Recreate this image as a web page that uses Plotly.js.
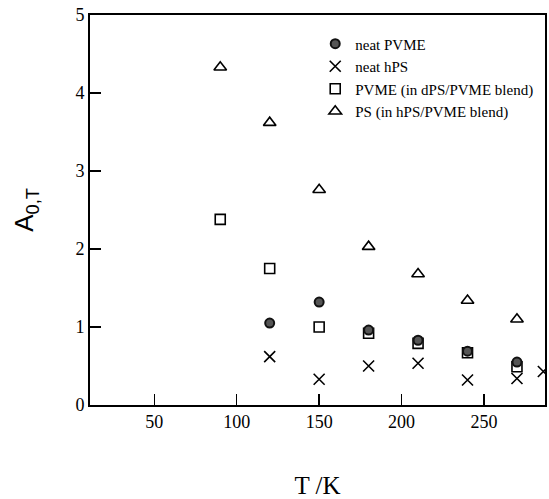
<!DOCTYPE html>
<html>
<head>
<meta charset="utf-8">
<script src="https://cdn.plot.ly/plotly-3.0.1.min.js"></script>
<style>html,body{margin:0;padding:0;background:#fff;}#chart{width:549px;height:499px;}</style>
</head>
<body>
<div id="chart"></div>
<script>
// Data
const neatPVME_T = [120, 150, 180, 210, 240, 270];
const neatPVME_A = [1.05, 1.32, 0.96, 0.83, 0.69, 0.55];

const neatHPS_T = [120, 150, 180, 210, 240, 270, 286];
const neatHPS_A = [0.62, 0.33, 0.50, 0.535, 0.32, 0.34, 0.43];

const pvmeBlend_T = [90, 120, 150, 180, 210, 240, 270];
const pvmeBlend_A = [2.38, 1.75, 1.00, 0.92, 0.79, 0.67, 0.49];

const psBlend_T = [90, 120, 150, 180, 210, 240, 270];
const psBlend_A = [4.33, 3.62, 2.76, 2.03, 1.68, 1.34, 1.10];

const xTicks = [50, 100, 150, 200, 250];
const yTicks = [0, 1, 2, 3, 4, 5];

const names = ['neat PVME', 'neat hPS', 'PVME (in dPS/PVME blend)', 'PS (in hPS/PVME blend)'];

const traces = [
  {
    x: pvmeBlend_T, y: pvmeBlend_A, name: names[2], legendrank: 3,
    mode: 'markers', type: 'scatter',
    marker: {symbol: 'square-open', size: 10, color: '#000', line: {width: 1.6, color: '#000'}}
  },
  {
    x: neatPVME_T, y: neatPVME_A, name: names[0], legendrank: 1,
    mode: 'markers', type: 'scatter',
    marker: {symbol: 'circle', size: 9, color: '#555', line: {width: 2, color: '#111'}}
  },
  {
    x: neatHPS_T, y: neatHPS_A, name: names[1], legendrank: 2,
    mode: 'markers', type: 'scatter',
    marker: {symbol: 'x-thin-open', size: 11, color: '#000', line: {width: 1.6, color: '#000'}}
  },
  {
    x: psBlend_T, y: psBlend_A, name: names[3], legendrank: 4,
    mode: 'markers', type: 'scatter',
    marker: {symbol: 'triangle-up-open', size: 11, color: '#000', line: {width: 1.6, color: '#000'}}
  }
];

const serif = 'Liberation Serif, Times New Roman, serif';

const layout = {
  width: 549, height: 499,
  margin: {l: 90, r: 4, t: 15, b: 94},
  paper_bgcolor: '#fff', plot_bgcolor: '#fff',
  showlegend: true,
  legend: {
    x: 0.495, y: 0.968, xanchor: 'left', yanchor: 'top',
    bgcolor: 'rgba(0,0,0,0)', borderwidth: 0,
    font: {family: serif, size: 15, color: '#000'}
  },
  xaxis: {
    range: [11, 287],
    tickmode: 'array', tickvals: xTicks, ticktext: xTicks.map(String),
    ticks: 'inside', ticklen: 11, tickwidth: 1.5, tickcolor: '#000',
    showline: true, linecolor: '#000', linewidth: 1.8, mirror: true,
    showgrid: false, zeroline: false,
    tickfont: {family: serif, size: 18, color: '#000'},
    title: {text: 'T /K', font: {family: serif, size: 25, color: '#000'}, standoff: 46}
  },
  yaxis: {
    range: [0, 5],
    tickmode: 'array', tickvals: yTicks, ticktext: yTicks.map(String),
    ticks: 'inside', ticklen: 11, tickwidth: 1.5, tickcolor: '#000',
    showline: true, linecolor: '#000', linewidth: 1.8, mirror: true,
    showgrid: false, zeroline: false,
    tickfont: {family: serif, size: 18, color: '#000'},
    title: {text: 'A<sub>0,T</sub>', font: {family: 'Liberation Sans, Arial, sans-serif', size: 26, color: '#000'}, standoff: 34}
  }
};

Plotly.newPlot('chart', traces, layout, {displayModeBar: false, staticPlot: true});
</script>
</body>
</html>
